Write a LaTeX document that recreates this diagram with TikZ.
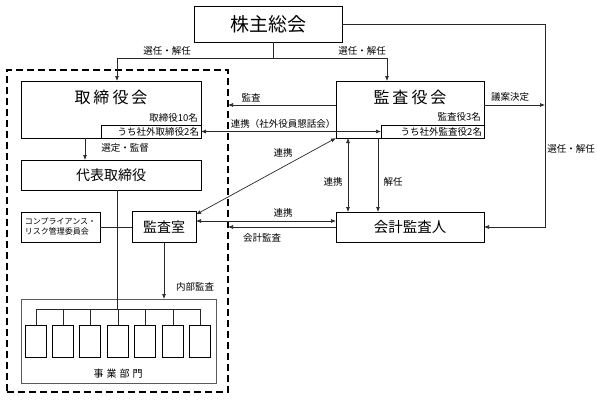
\documentclass[tikz,border=0pt]{standalone}
\usepackage{fontspec}
\setmainfont{Noto Sans CJK JP}
\usepackage{tikz}
\usetikzlibrary{arrows.meta,positioning,calc}
\definecolor{lineblack}{RGB}{40,40,40}
\definecolor{unitgray} {RGB}{90,90,90}
\newcommand{\jsp}{\hspace{3pt}}
\tikzset{
  orgbox/.style ={draw=black, line width=0.9pt, inner sep=0pt, outer sep=0pt,
                  minimum width=#1, align=center},
  orgbox/.default=148pt,
  titletext/.style={font=\fontsize{16}{18}\selectfont, inner sep=0pt},
  subbox/.style ={draw=black, line width=0.9pt, inner sep=2pt, outer sep=0pt,
                  minimum height=13pt, align=right,
                  font=\fontsize{9.5}{10}\selectfont},
  unitbox/.style={draw=black, line width=0.7pt, minimum width=21pt,
                  minimum height=32pt, inner sep=0pt, outer sep=0pt},
  lbl/.style    ={font=\fontsize{9.5}{10}\selectfont, inner sep=0pt},
  conn/.style   ={line width=0.7pt, draw=lineblack},
  arr/.style    ={-{Latex[length=5pt,width=4pt]}, conn},
  darr/.style   ={{Latex[length=5pt,width=4pt]}-{Latex[length=5pt,width=4pt]}, conn},
}

\begin{document}
\begin{tikzpicture}[x=1pt,y=-1pt]
  \useasboundingbox (0,0) rectangle (597,399);
  %% executive side
  \node[draw=black, line width=1.8pt, dash pattern=on 7pt off 4pt,
        minimum width=221pt, minimum height=322pt, inner sep=0pt, outer sep=0pt] (grp) at (117.5,231) {};
  \node[orgbox, minimum height=36pt, font=\fontsize{19}{22}\selectfont] (kabu) at (268,24) {株主総会};
  \node[orgbox=180pt, minimum height=57pt] (tori) at (111,109.5) {};
  \node[titletext] (toriT) at (111,97) {取\jsp 締\jsp 役\jsp 会};
  \node[subbox, text width=96pt, anchor=south east] (toriSub) at (tori.south east) {うち社外取締役2名};
  \node[lbl, anchor=east] (toriN) at (198,118) {取締役10名};
  \node[orgbox=180pt, minimum height=30pt, font=\fontsize{14}{16}\selectfont] (dai) at (111,175) {代表取締役};
  \node[orgbox=79pt, minimum height=30pt, font=\fontsize{8}{10}\selectfont, align=left] (comp) at (60.5,227) {コンプライアンス・\\リスク管理委員会};
  \node[orgbox=64pt, minimum height=31pt, font=\fontsize{14}{16}\selectfont] (kansa) at (164,227) {監査室};
  \node[orgbox=195pt, minimum height=84pt, draw=unitgray, line width=0.6pt] (jigyo) at (118.5,341) {};
  \node[lbl, font=\fontsize{10}{12}\selectfont] (jigyoT) at (118,374) {事\jsp 業\jsp 部\jsp 門};
  \foreach \ux [count=\i] in {36,63,90,118,145,173,200}
    \node[unitbox] (u\i) at (\ux,341) {};
  \coordinate (bar) at (0,309);
  %% audit side
  \node[orgbox, minimum height=57pt] (kansayaku) at (410,109.5) {};
  \node[titletext] (kansayakuT) at (410,97) {監\jsp 査\jsp 役\jsp 会};
  \node[subbox, text width=99pt, anchor=south east] (kansayakuSub) at (kansayaku.south east) {うち社外監査役2名};
  \node[lbl, anchor=east] (kansayakuN) at (481,117) {監査役3名};
  \node[orgbox, minimum height=30pt, font=\fontsize{14.5}{16}\selectfont] (kaikei) at (410,227) {会計監査人};
  \coordinate (rt) at (545,24);

  \draw[arr] ([xshift=5pt]kabu.south) -- ++(0,16) -| ([xshift=6pt]tori.north);
  \draw[arr] ([xshift=5pt]kabu.south) -- ++(0,16) -| ([xshift=-23pt]kansayaku.north);
  \draw[arr] (kabu.east) -- (rt) |- (kaikei.east);
  \draw[arr] ([yshift=4.5pt]kansayaku.east) -- ([yshift=4.5pt]kansayaku.east -| rt);
  \draw[arr] ([yshift=4.5pt]kansayaku.west) coordinate (a1) -- (a1 -| grp.east);
  \draw[darr] (toriSub.east) -- (kansayakuSub.west);
  \draw[darr] (kansayaku.south west) -- ([yshift=-3pt]kansa.north east);
  \draw[darr] ([yshift=6pt]kansa.east) -- ([yshift=6pt]kaikei.west);
  \draw[arr] (kaikei.west) -- (kaikei.west -| grp.east);
  \draw[darr] ([xshift=12pt]kansayaku.south west) -- ([xshift=12pt]kaikei.north west);
  \draw[arr] ([xshift=42pt]kansayaku.south west) -- ([xshift=42pt]kaikei.north west);
  \draw[arr] ([xshift=-26pt]tori.south) -- ([xshift=-26pt]dai.north);
  \draw[conn] ([xshift=6pt]dai.south) -- ([xshift=6pt]dai.south |- bar);
  \draw[conn] (comp.east) -- (kansa.west);
  \draw[arr] (kansa.south) -- (kansa.south |- jigyo.north);
  \draw[conn] (u1.north) -- (u1.north |- bar) -- (u7.north |- bar) -- (u7.north);
  \foreach \i in {2,...,6}
    \draw[conn] (u\i.north) -- (u\i.north |- bar);

  \node[lbl] (l1) at (167,51) {選任・解任};
  \node[lbl] (l2) at (362,51) {選任・解任};
  \node[lbl] (l3) at (571,149) {選任・解任};
  \node[lbl] (l4) at (510,97) {議案決定};
  \node[lbl] (l5) at (251,98) {監査};
  \node[lbl] (l6) at (283,124) {連携（社外役員懇話会）};
  \node[lbl] (l7) at (283,153) {連携};
  \node[lbl] (l8) at (283,213) {連携};
  \node[lbl] (l9) at (262,238) {会計監査};
  \node[lbl] (l10) at (333,182) {連携};
  \node[lbl] (l11) at (393,182) {解任};
  \node[lbl] (l12) at (125,148) {選定・監督};
  \node[lbl] (l13) at (195,287) {内部監査};
\end{tikzpicture}
\end{document}
